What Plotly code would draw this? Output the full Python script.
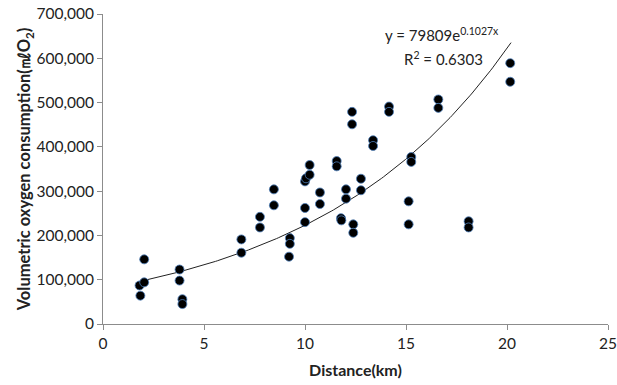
import numpy as np
import plotly.graph_objects as go

distance_km = [1.85, 1.81, 2.04, 2.04, 3.79, 3.79, 3.93, 3.93, 6.85, 6.85,
               7.77, 7.77, 8.46, 8.46, 9.25, 9.25, 9.21, 10.0, 10.0, 10.0,
               10.05, 10.23, 10.23, 10.74, 10.74, 11.57, 11.57, 11.78, 11.8, 12.03,
               12.03, 12.33, 12.33, 12.39, 12.39, 12.77, 12.77, 13.37, 13.37, 14.16,
               14.16, 15.26, 15.26, 15.13, 15.13, 16.6, 16.6, 18.1, 18.1, 20.16, 20.16]
oxygen = [64000, 87000, 94000, 146000, 123000, 98000, 56000, 45000, 191000, 161000,
          242000, 218000, 304000, 268000, 194000, 181000, 152000, 262000, 230000, 322000,
          329000, 359000, 337000, 297000, 271000, 368000, 356000, 239000, 234000, 304000,
          283000, 479000, 451000, 225000, 206000, 328000, 302000, 415000, 402000, 491000,
          479000, 377000, 366000, 277000, 225000, 507000, 488000, 232000, 218000, 589000, 547000]

trend_a = 79809
trend_b = 0.1027
trend_x_range = [2.0, 20.2]

x_ticks = [0, 5, 10, 15, 20, 25]
y_ticks = [0, 100000, 200000, 300000, 400000, 500000, 600000, 700000]

FONT = "Lato, 'Open Sans', sans-serif"

tx = np.linspace(trend_x_range[0], trend_x_range[1], 200)
ty = trend_a * np.exp(trend_b * tx)

fig = go.Figure()
fig.add_trace(go.Scatter(x=tx, y=ty, mode="lines",
                         line=dict(color="#222222", width=1), hoverinfo="skip",
                         showlegend=False))
fig.add_trace(go.Scatter(x=distance_km, y=oxygen, mode="markers",
                         marker=dict(size=9, color="black",
                                     line=dict(color="rgba(79,129,189,0.8)", width=1)),
                         showlegend=False))

fig.update_layout(
    width=617, height=385,
    margin=dict(l=103, r=9, t=14, b=61),
    paper_bgcolor="white", plot_bgcolor="white",
    font=dict(family=FONT, color="#222222", size=15.5),
    xaxis=dict(range=[0, 25], tickvals=x_ticks, showgrid=False, zeroline=False,
               showline=True, linecolor="#8c8c8c", linewidth=1, automargin=False,
               ticks="outside", ticklen=5, tickcolor="#8c8c8c",
               title=dict(text="<b>Distance(km)</b>", font=dict(size=16), standoff=14),
               tickfont=dict(size=15.5)),
    yaxis=dict(range=[0, 700000], tickvals=y_ticks, tickformat=",d", showgrid=False,
               zeroline=False, showline=True, linecolor="#8c8c8c", linewidth=1,
               automargin=False,
               ticks="outside", ticklen=5, tickcolor="#8c8c8c",
               title=dict(text="<b>Volumetric oxygen consumption(㎖O<sub>2</sub>)</b>",
                          font=dict(size=16.5), standoff=1),
               tickfont=dict(size=15.5)),
    annotations=[
        dict(x=0.671, y=0.935, xref="paper", yref="paper",
             text="y = 79809e<sup>0.1027x</sup>", showarrow=False,
             xanchor="center", yanchor="middle", font=dict(size=15, color="#222222")),
        dict(x=0.675, y=0.857, xref="paper", yref="paper",
             text="R<sup>2</sup> = 0.6303", showarrow=False,
             xanchor="center", yanchor="middle", font=dict(size=15, color="#222222")),
    ],
)

fig.write_html("out.html",
               config={"displayModeBar": False},
               post_script="document.body.style.margin='0';document.body.style.overflow='hidden';")
